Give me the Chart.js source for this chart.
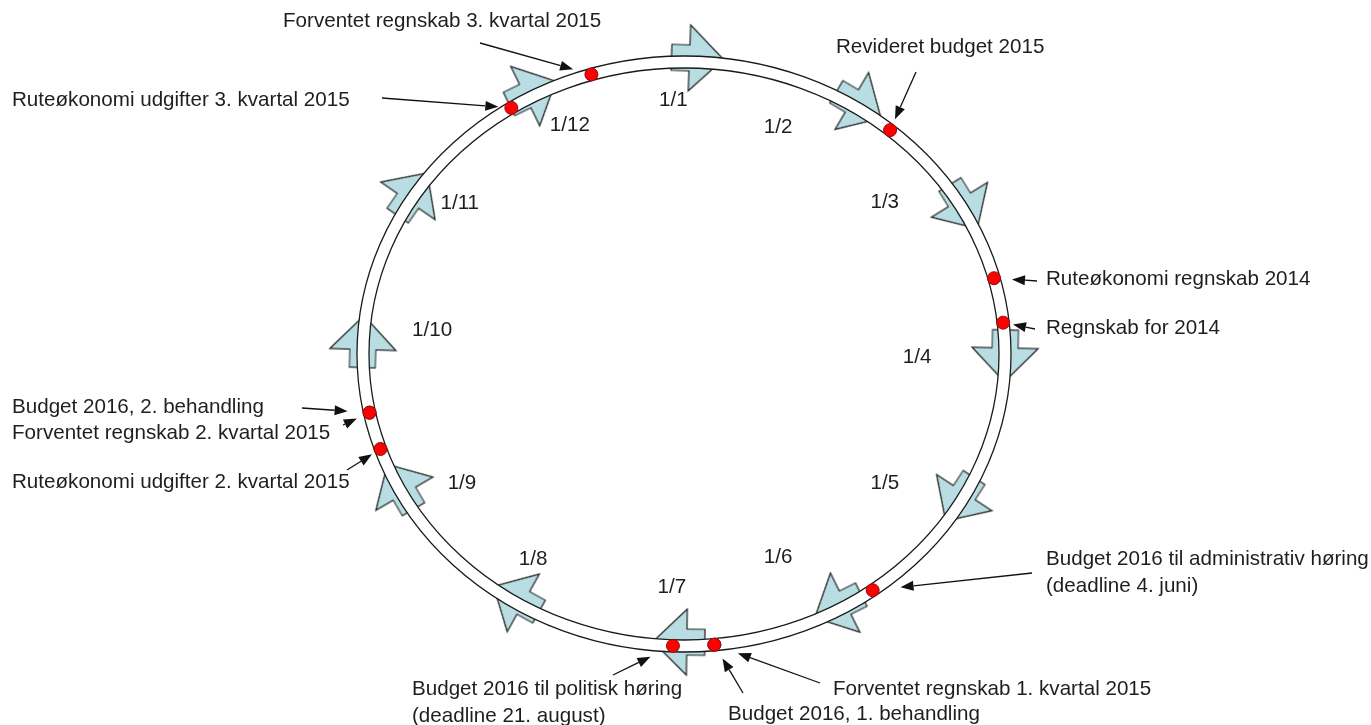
<!DOCTYPE html>
<html>
<head>
<meta charset="utf-8">
<title>Årshjul 2015</title>
<script src="https://cdn.jsdelivr.net/npm/chart.js@4.4.1/dist/chart.umd.min.js"></script>
<style>
  html, body { margin: 0; padding: 0; background: #fff; }
  #wrap { width: 1371px; height: 725px; position: relative; }
</style>
</head>
<body>
<div id="wrap"><canvas id="wheel"></canvas></div>
<script>
// months on the wheel and the day of the year each one starts on
const months = ['1/1', '1/2', '1/3', '1/4', '1/5', '1/6', '1/7', '1/8', '1/9', '1/10', '1/11', '1/12'];
const monthStartDay = [0, 31, 59, 90, 120, 151, 181, 212, 243, 273, 304, 334];

// events (red dots) and the day of the year they sit on
const eventLabels = [
    'Forventet regnskab 3. kvartal 2015',
    'Ruteøkonomi udgifter 3. kvartal 2015',
    'Revideret budget 2015',
    'Ruteøkonomi regnskab 2014',
    'Regnskab for 2014',
    'Budget 2016 til administrativ høring\n(deadline 4. juni)',
    'Forventet regnskab 1. kvartal 2015',
    'Budget 2016, 1. behandling',
    'Budget 2016 til politisk høring\n(deadline 21. august)',
    'Budget 2016, 2. behandling',
    'Forventet regnskab 2. kvartal 2015',
    'Ruteøkonomi udgifter 2. kvartal 2015'
];
const eventDays = [348, 332, 40.5, 76, 85, 146, 177, 177, 184.5, 262, 262, 254.5];

// ---- layout only below ----
const CX = 684, CY = 354, RX = 321, RY = 292;   // wheel centre / radii in px
const RING_HALF = 6;
const ARROW_LEAD = 2.4;     // arrows sit a little after the month start (deg)
const ARROW_SHIFT_Y = 4;    // px, arrows sit slightly above the ring centre line
const FONT = '20.6px "Liberation Sans", Arial, sans-serif';
const LINE_H = 27;

// month label placement: [angle deg, radius factor]
const monthLabelPos = [
    [357.8, 0.871], [20.7, 0.83], [50.2, 0.814], [90.8, 0.726], [125.2, 0.766], [157.1, 0.754],
    [182.7, 0.799], [213.7, 0.847], [237.4, 0.821], [276.0, 0.789], [306.5, 0.869], [335.6, 0.861]
];

// event label placement: [text x, text y, arrow start x, arrow start y, gap to dot]
const eventLabelPos = [
    [283, 21, 480, 43, 19],
    [12, 100, 382, 98, 13],
    [836, 47, 916, 72, 12],
    [1046, 279, 1037, 281, 18],
    [1046, 328, 1035, 329, 10],
    [1046, 559, 1032, 573, 28],
    [833, 689, 820, 683, 25],
    [728, 714, 743, 693, 16],
    [412, 689, 613, 675, 25],
    [12, 407, 302, 408, 22],
    [12, 433, 343, 425, 14],
    [12, 482, 347, 470, 10]
];

const deg = Math.PI / 180;
const dayToAngle = d => d / 365 * 360;

function onWheel(angle, r) {
    return { x: r * Math.sin(angle * deg), y: r * Math.cos(angle * deg) };
}

function makeArrow() {
    const c = document.createElement('canvas');
    c.width = 64; c.height = 74;
    const g = c.getContext('2d');
    g.translate(32, 37);
    g.beginPath();
    g.moveTo(-26, -13);
    g.lineTo(-8, -13);
    g.lineTo(-8, -33);
    g.lineTo(26, 0);
    g.lineTo(-8, 33);
    g.lineTo(-8, 13);
    g.lineTo(-26, 13);
    g.closePath();
    g.fillStyle = '#b8dde2';
    g.fill();
    g.strokeStyle = '#222';
    g.lineWidth = 1.2;
    g.stroke();
    return c;
}
const arrowImg = makeArrow();

const dotData = eventDays.map(d => onWheel(dayToAngle(d), 1));
const arrowAngles = monthStartDay.map(d => dayToAngle(d) + ARROW_LEAD);
const arrowData = arrowAngles.map(a => {
    const p = onWheel(a, 1);
    return { x: p.x, y: p.y + ARROW_SHIFT_Y / RY };
});
const arrowRotation = arrowAngles.map(a =>
    Math.atan2(RY * Math.sin(a * deg), RX * Math.cos(a * deg)) / deg);

const ringPlugin = {
    id: 'ring',
    afterDatasetDraw(chart, args) {
        if (args.index !== 1) return;
        const { ctx, scales: { x, y } } = chart;
        const cx = x.getPixelForValue(0), cy = y.getPixelForValue(0);
        const rx = x.getPixelForValue(1) - cx, ry = cy - y.getPixelForValue(1);
        ctx.save();
        ctx.beginPath();
        ctx.ellipse(cx, cy, rx + RING_HALF, ry + RING_HALF, 0, 0, Math.PI * 2);
        ctx.moveTo(cx + rx - RING_HALF, cy);
        ctx.ellipse(cx, cy, rx - RING_HALF, ry - RING_HALF, 0, 0, Math.PI * 2);
        ctx.fillStyle = '#fff';
        ctx.fill('evenodd');
        ctx.strokeStyle = '#1a1a1a';
        ctx.lineWidth = 1.3;
        ctx.beginPath();
        ctx.ellipse(cx, cy, rx + RING_HALF, ry + RING_HALF, 0, 0, Math.PI * 2);
        ctx.stroke();
        ctx.beginPath();
        ctx.ellipse(cx, cy, rx - RING_HALF, ry - RING_HALF, 0, 0, Math.PI * 2);
        ctx.stroke();
        ctx.restore();
    }
};

const labelPlugin = {
    id: 'labels',
    afterDraw(chart) {
        const { ctx, scales: { x, y } } = chart;
        ctx.save();
        ctx.font = FONT;
        ctx.fillStyle = '#1e1e1e';
        ctx.textBaseline = 'middle';

        // month labels
        ctx.textAlign = 'center';
        months.forEach((m, i) => {
            const p = onWheel(monthLabelPos[i][0], monthLabelPos[i][1]);
            ctx.fillText(m, x.getPixelForValue(p.x), y.getPixelForValue(p.y));
        });

        // event labels with pointer arrows
        ctx.textAlign = 'left';
        eventLabels.forEach((txt, i) => {
            const [tx, ty, sx, sy, gap] = eventLabelPos[i];
            txt.split('\n').forEach((line, k) => ctx.fillText(line, tx, ty + k * LINE_H));

            const dx = x.getPixelForValue(dotData[i].x);
            const dy = y.getPixelForValue(dotData[i].y);
            const vx = sx - dx, vy = sy - dy;
            const len = Math.hypot(vx, vy);
            const ux = vx / len, uy = vy / len;
            const tipX = dx + ux * gap, tipY = dy + uy * gap;
            const headL = 13, headW = 5;
            const baseX = tipX + ux * headL, baseY = tipY + uy * headL;

            ctx.strokeStyle = '#111';
            ctx.lineWidth = 1.3;
            ctx.beginPath();
            ctx.moveTo(sx, sy);
            ctx.lineTo(baseX, baseY);
            ctx.stroke();

            ctx.fillStyle = '#111';
            ctx.beginPath();
            ctx.moveTo(tipX, tipY);
            ctx.lineTo(baseX - uy * headW, baseY + ux * headW);
            ctx.lineTo(baseX + uy * headW, baseY - ux * headW);
            ctx.closePath();
            ctx.fill();
            ctx.fillStyle = '#1e1e1e';
        });
        ctx.restore();
    }
};

new Chart(document.getElementById('wheel'), {
    type: 'scatter',
    data: {
        datasets: [{
            label: 'Begivenheder',
            data: dotData,
            pointRadius: 6.5,
            pointBackgroundColor: '#ff0000',
            pointBorderColor: '#8b1010',
            pointBorderWidth: 1
        }, {
            label: 'Måneder',
            data: arrowData,
            pointStyle: arrowImg,
            pointRadius: 30,
            rotation: ctx => arrowRotation[ctx.dataIndex]
        }]
    },
    options: {
        responsive: true,
        maintainAspectRatio: false,
        animation: false,
        events: [],
        layout: { padding: 0, autoPadding: false },
        plugins: { legend: { display: false }, tooltip: { enabled: false } },
        scales: {
            x: { type: 'linear', display: false, bounds: 'data', grace: 0,
                 min: -CX / RX, max: (1371 - CX) / RX },
            y: { type: 'linear', display: false, bounds: 'data', grace: 0,
                 min: -(725 - CY) / RY, max: CY / RY }
        }
    },
    plugins: [ringPlugin, labelPlugin]
});
</script>
</body>
</html>
